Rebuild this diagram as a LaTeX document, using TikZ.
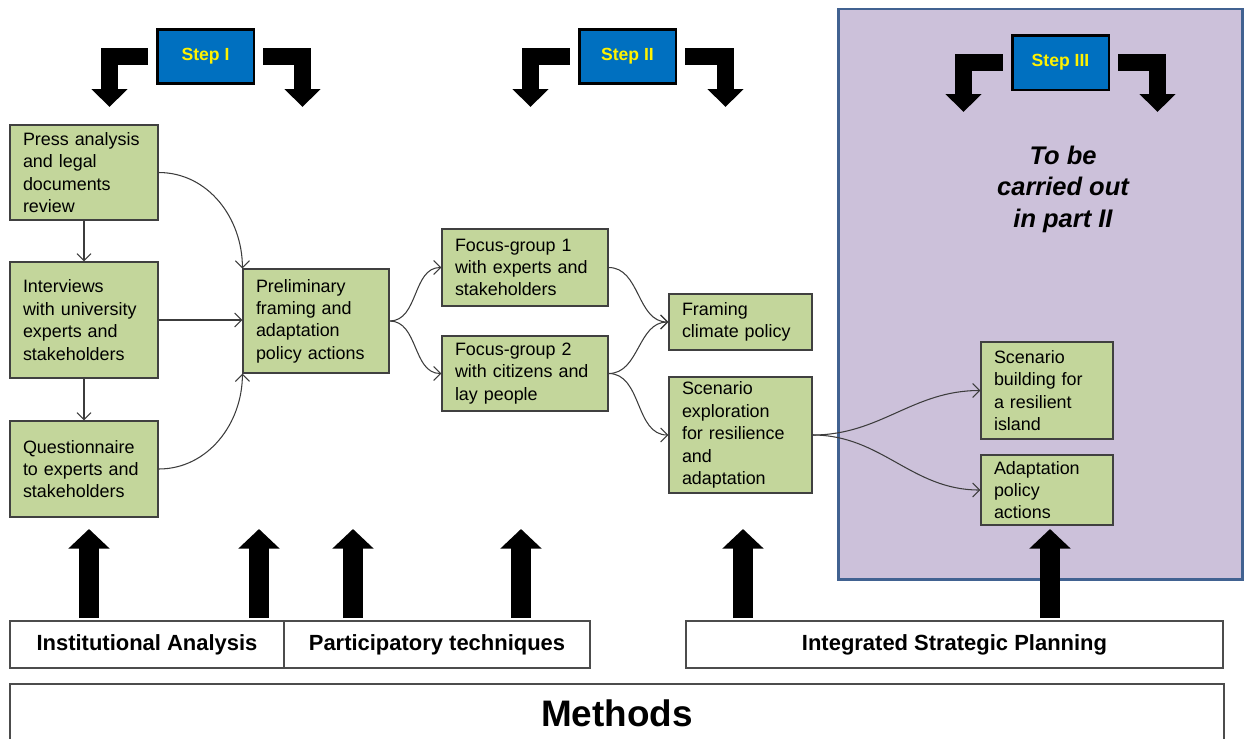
\documentclass[tikz,border=0pt]{standalone}
\usepackage{fontspec}
\setmainfont{Liberation Sans}
\usepackage{xcolor}
\usepackage{tikz}
\usetikzlibrary{positioning,calc,arrows.meta}

\definecolor{boxgreen}{RGB}{195,214,155}
\definecolor{panelpurple}{RGB}{204,193,218}
\definecolor{panelblue}{RGB}{65,98,145}
\definecolor{stepblue}{RGB}{0,112,192}
\definecolor{linkgray}{RGB}{60,60,60}

\begin{document}
\begin{tikzpicture}[x=0.02cm, y=-0.02cm,
    greenbox/.style={draw=black!75, line width=0.7pt, fill=boxgreen, align=left, inner xsep=0.26cm, inner ysep=1pt, font=\fontsize{10.2}{12.75}\selectfont},
    stepbox/.style={draw=black, line width=1.7pt, fill=stepblue, text=yellow, font=\bfseries\fontsize{10}{12}\selectfont, minimum width=1.94cm, minimum height=1.08cm},
    methodbox/.style={draw=black!70, line width=0.8pt, fill=white, minimum height=0.94cm, font=\bfseries\fontsize{12.5}{15}\selectfont},
    link/.style={draw=linkgray, line width=0.6pt, -{Straight Barb[length=4pt,width=8pt]}},
    bentarrow/.style={line width=0.33cm, -{Triangle[length=0.36cm,width=0.7cm]}},
    uparrow/.style={line width=0.4cm, -{Triangle[length=0.39cm,width=0.8cm]}}
]
    \useasboundingbox (0,0) rectangle (1244,738);
    \clip (0,0) rectangle (1244,738);

    % part II panel
    \draw[draw=panelblue, line width=1.7pt, fill=panelpurple] (838,9) rectangle (1242,579);

    \node[stepbox] (stepone) at (205.5,56.5) {Step I};
    \node[stepbox] (steptwo) at (627.5,56.5) {Step II};
    \node[stepbox, minimum height=1.1cm] (stepthree) at (1060.5,62.5) {Step III};

    \coordinate (tipIa) at (109.5,107);
    \coordinate (tipIb) at (302.5,107);
    \coordinate (tipIIa) at (530.5,107);
    \coordinate (tipIIb) at (725.5,107);
    \coordinate (tipIIIa) at (963.5,112);
    \coordinate (tipIIIb) at (1157.5,112);

    \draw[bentarrow] ([xshift=-0.16cm]stepone.west) -| (tipIa);
    \draw[bentarrow] ([xshift=0.16cm]stepone.east) -| (tipIb);
    \draw[bentarrow] ([xshift=-0.16cm]steptwo.west) -| (tipIIa);
    \draw[bentarrow] ([xshift=0.16cm]steptwo.east) -| (tipIIb);
    \draw[bentarrow] ([xshift=-0.16cm]stepthree.west) -| (tipIIIa);
    \draw[bentarrow] ([xshift=0.16cm]stepthree.east) -| (tipIIIb);

    \node[font=\bfseries\itshape\fontsize{14.5}{17.9}\selectfont, align=center] (later) at (1063,189) {To be\\carried out\\in part II};

    % step I
    \node[greenbox, text width=2.44cm, minimum height=1.9cm] (press) at (84,172.5) {Press analysis\\and legal\\documents\\review};
    \node[greenbox, text width=2.44cm, minimum height=2.32cm] (interv) at (84,320) {Interviews\\with university\\experts and\\stakeholders};
    \node[greenbox, text width=2.44cm, minimum height=1.92cm] (quest) at (84,469) {Questionnaire\\to experts and\\stakeholders};
    \node[greenbox, text width=2.4cm, minimum height=2.08cm] (prelim) at (316,321) {Preliminary\\framing and\\adaptation\\policy actions};

    % step II
    \node[greenbox, text width=2.8cm, minimum height=1.54cm] (fgone) at (525,267.5) {Focus-group 1\\with experts and\\stakeholders};
    \node[greenbox, text width=2.8cm, minimum height=1.5cm] (fgtwo) at (525,373.5) {Focus-group 2\\with citizens and\\lay people};
    \node[greenbox, text width=2.34cm, minimum height=1.12cm] (framing) at (740.5,322) {Framing\\climate policy};
    \node[greenbox, text width=2.34cm, minimum height=2.32cm] (scenexp) at (740.5,435) {Scenario\\exploration\\for resilience\\and\\adaptation};

    % step III
    \node[greenbox, text width=2.12cm, minimum height=1.94cm] (scenbuild) at (1047,390.5) {Scenario\\building for\\a resilient\\island};
    \node[greenbox, text width=2.12cm, minimum height=1.4cm] (adapt) at (1047,490) {Adaptation\\policy\\actions};

    \draw[link] (press) -- (interv);
    \draw[link] (interv) -- (quest);
    \draw[link] (press.east) to[out=0, in=90] (prelim.north west);
    \draw[link] (interv.east) -- (interv.east -| prelim.west);
    \draw[link] (quest.east) to[out=0, in=-90] (prelim.south west);
    \draw[link] (prelim.east) to[out=0, in=180] (fgone.west);
    \draw[link] (prelim.east) to[out=0, in=180] (fgtwo.west);
    \draw[link] (fgone.east) to[out=0, in=180] (framing.west);
    \draw[link] (fgtwo.east) to[out=0, in=180] (framing.west);
    \draw[link] (fgtwo.east) to[out=0, in=180] (scenexp.west);
    \draw[link] (scenexp.east) to[out=0, in=180] (scenbuild.west);
    \draw[link] (scenexp.east) to[out=0, in=180] (adapt.west);

    % methods
    \node[methodbox, minimum width=5.48cm] (inst) at (147,644.5) {Institutional Analysis};
    \node[methodbox, minimum width=6.12cm] (partic) at (437,644.5) {Participatory techniques};
    \node[methodbox, minimum width=10.74cm] (isp) at (954.5,644.5) {Integrated Strategic Planning};
    \node[methodbox, minimum width=24.28cm, minimum height=1.16cm, font=\bfseries\fontsize{21}{25}\selectfont] (methods) at (617,713) {Methods};

    \foreach \x in {89,259,353,521,743,1050}
        \draw[uparrow] (\x,618) -- (\x,529);
\end{tikzpicture}
\end{document}
